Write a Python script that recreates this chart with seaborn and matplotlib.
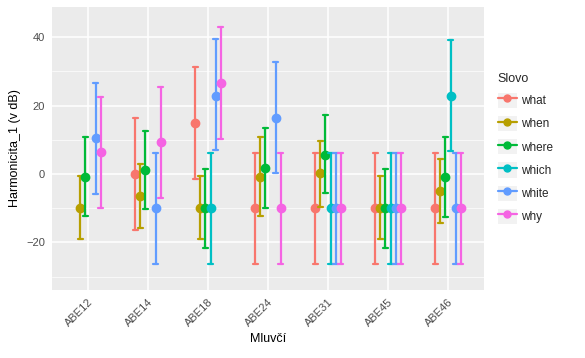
import numpy as np
import pandas as pd
import matplotlib
matplotlib.use('Agg')
import matplotlib.pyplot as plt
import seaborn as sns
from matplotlib.lines import Line2D
from matplotlib.patches import Patch
from matplotlib.ticker import MultipleLocator

# Data
speakers = ['ABE12', 'ABE14', 'ABE18', 'ABE24', 'ABE31', 'ABE45', 'ABE46']
words = ['what', 'when', 'where', 'which', 'white', 'why']
nan = np.nan

# point value per word, one entry per speaker
mid = {
    'what':  [nan, 0.0, 14.8, -10.0, -10.0, -10.0, -10.0],
    'when':  [-10.0, -6.5, -10.0, -1.0, 0.2, -10.0, -5.1],
    'where': [-0.9, 1.1, -10.0, 1.7, 5.5, -10.0, -1.0],
    'which': [nan, nan, -10.0, nan, -10.0, -10.0, 22.7],
    'white': [10.5, -10.0, 22.9, 16.3, -10.0, -10.0, -10.0],
    'why':   [6.3, 9.3, 26.5, -10.0, -10.0, -10.0, -10.0],
}
low = {
    'what':  [nan, -16.4, -1.5, -26.3, -26.3, -26.3, -26.3],
    'when':  [-19.1, -15.9, -19.1, -12.2, -9.6, -19.1, -14.2],
    'where': [-12.2, -10.2, -21.5, -9.9, -5.6, -21.5, -12.6],
    'which': [nan, nan, -26.3, nan, -26.3, -26.3, 6.8],
    'white': [-5.8, -26.3, 7.0, 0.4, -26.3, -26.3, -26.3],
    'why':   [-9.9, -7.0, 10.3, -26.3, -26.3, -26.3, -26.3],
}
high = {
    'what':  [nan, 16.3, 31.3, 6.1, 6.1, 6.1, 6.1],
    'when':  [-0.5, 3.0, -0.5, 10.9, 9.7, -0.5, 4.5],
    'where': [10.7, 12.7, 1.5, 13.3, 17.3, 1.5, 10.7],
    'which': [nan, nan, 6.1, nan, 6.1, 6.1, 39.2],
    'white': [26.7, 6.2, 39.5, 32.8, 6.1, 6.1, 6.1],
    'why':   [22.5, 25.4, 43.1, 6.1, 6.1, 6.1, 6.1],
}
colors = ['#F8766D', '#B79F00', '#00BA38', '#00BFC4', '#619CFF', '#F564E3']

# long table: lo / mid / hi rows per group, median -> point, min/max -> bar
rows = []
for w in words:
    for i, s in enumerate(speakers):
        if np.isnan(mid[w][i]):
            continue
        for v in (low[w][i], mid[w][i], high[w][i]):
            rows.append({'Mluvci': s, 'Slovo': w, 'val': v})
df = pd.DataFrame(rows)

sns.set_style('darkgrid', {'axes.facecolor': '#EBEBEB', 'grid.color': 'white'})
plt.rcParams['font.family'] = ['Liberation Sans', 'DejaVu Sans']

fig = plt.figure(figsize=(5.85, 3.58), dpi=100)
ax = fig.add_axes([52 / 585, 1 - 290 / 358, (484 - 52) / 585, (290 - 7) / 358])

sns.pointplot(data=df, x='Mluvci', y='val', hue='Slovo',
              order=speakers, hue_order=words, palette=colors,
              estimator='median', errorbar=lambda v: (v.min(), v.max()),
              dodge=0.4167, linestyle='none', markersize=5,
              capsize=0.09, err_kws={'linewidth': 1.6},
              ax=ax, legend=False)

ax.set_xlim(-0.6, 6.6)
ax.set_ylim(-33.9, 48.8)
ax.set_yticks([-20, 0, 20, 40])
ax.yaxis.set_minor_locator(MultipleLocator(10))
ax.grid(which='major', color='white', linewidth=1.1)
ax.grid(which='minor', axis='y', color='white', linewidth=0.5)
ax.set_axisbelow(True)
for sp in ax.spines.values():
    sp.set_visible(False)

ax.tick_params(axis='both', which='major', length=3, width=0.8, color='#333333',
               labelsize=8, labelcolor='#4D4D4D', pad=2)
ax.tick_params(axis='y', which='minor', length=0)
plt.setp(ax.get_xticklabels(), rotation=45, ha='right', rotation_mode='anchor')

ax.set_xlabel('Mluvčí', fontsize=9, color='black', labelpad=3)
ax.set_ylabel('Harmonicita_1 (v dB)', fontsize=9, color='black', labelpad=4)

handles = [(Patch(facecolor='#F2F2F2', edgecolor='none'),
            Line2D([], [], color=c, linewidth=1.6, marker='o', markersize=5))
           for c in colors]
leg = fig.legend(handles, words, title='Slovo', loc='upper left',
                 bbox_to_anchor=(493 / 585, 1 - 68 / 358), frameon=False,
                 fontsize=8.5, title_fontsize=9, handlelength=1.6,
                 handleheight=1.6, labelspacing=0.68, handletextpad=0.4,
                 borderaxespad=0)
leg._legend_box.align = 'left'

fig.savefig('out.png', dpi=100)
